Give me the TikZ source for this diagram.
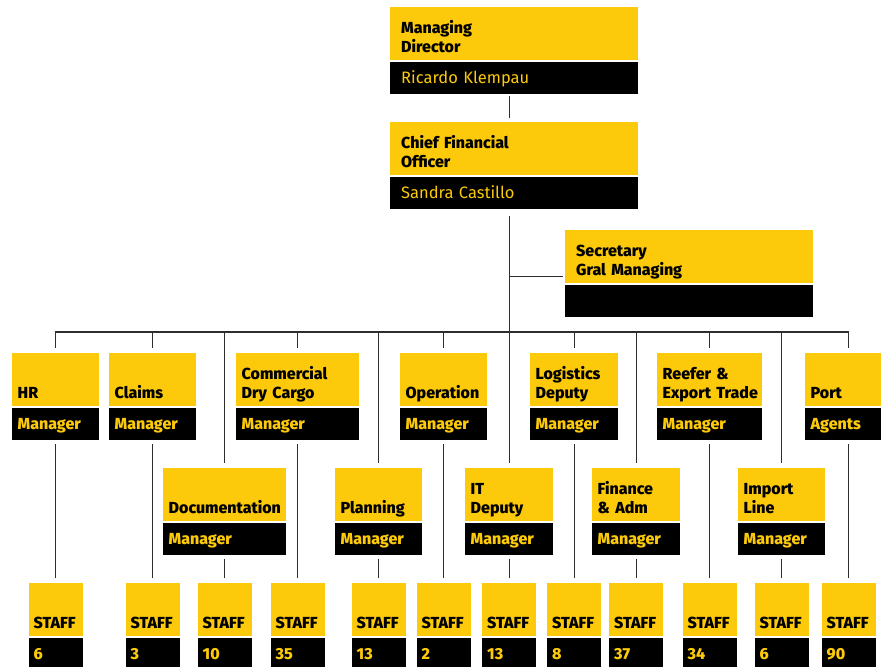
\documentclass[tikz,border=0pt]{standalone}
\usepackage{fontspec}
\setmainfont{Fira Sans}[BoldFont={Fira Sans ExtraBold}]
\usetikzlibrary{positioning}
\definecolor{orgyel}{RGB}{252,202,10}
\definecolor{orgline}{RGB}{45,45,45}
\newcommand\twoline[1]{\begin{tabular}[b]{@{}l@{}}#1\end{tabular}}
\tikzset{
  unit/.style={anchor=north west, inner xsep=5.5bp, inner ysep=0pt, align=left, text width=#1},
  ttl/.style={unit=#1, fill=orgyel, text=black,
    font=\bfseries\fontsize{16bp}{19.5bp}\selectfont, text height=45.5bp, text depth=7.5bp},
  role/.style={unit=#1, fill=black, text=orgyel,
    font=\bfseries\fontsize{16bp}{19.5bp}\selectfont, text height=21.5bp, text depth=10bp},
  who/.style={role=#1, font=\fontsize{16.5bp}{19.5bp}\selectfont},
  big/.style={inner xsep=11bp},
  small/.style={inner xsep=5bp},
  link/.style={draw=orgline, line width=1.4bp, shorten <=4bp, shorten >=5bp},
  drop/.style={link, shorten <=0bp}
}

\begin{document}
\begin{tikzpicture}[x=1bp, y=-1bp]
  \useasboundingbox (0,0) rectangle (881,667);
  % directors
  \node[ttl=226bp, big] (md) at (390,7) {\twoline{Managing\\Director}};
  \node[who=226bp, big, below=1.5bp of md] (md-n) {Ricardo Klempau};
  \node[ttl=226bp, big] (cfo) at (390,122) {\twoline{Chief Financial\\Officer}};
  \node[who=226bp, big, below=1.5bp of cfo] (cfo-n) {Sandra Castillo};
  \node[ttl=226bp, big] (sec) at (565,230) {\twoline{Secretary\\Gral Managing}};
  \node[who=226bp, big, below=1.5bp of sec] (sec-n) {};
  % first row
  \node[ttl=76bp] (hr) at (12,353) {HR};
  \node[role=76bp, below=1.5bp of hr] (hr-m) {Manager};
  \node[ttl=76bp] (claims) at (109,353) {Claims};
  \node[role=76bp, below=1.5bp of claims] (claims-m) {Manager};
  \node[ttl=112bp] (comm) at (236,353) {\twoline{Commercial\\Dry Cargo}};
  \node[role=112bp, below=1.5bp of comm] (comm-m) {Manager};
  \node[ttl=76bp] (oper) at (400,353) {Operation};
  \node[role=76bp, below=1.5bp of oper] (oper-m) {Manager};
  \node[ttl=77bp] (logi) at (530,353) {\twoline{Logistics\\Deputy}};
  \node[role=77bp, below=1.5bp of logi] (logi-m) {Manager};
  \node[ttl=94bp] (reef) at (657,353) {\twoline{Reefer \&\\Export Trade}};
  \node[role=94bp, below=1.5bp of reef] (reef-m) {Manager};
  \node[ttl=76bp] (port) at (805,353) {Port};
  \node[role=76bp, below=1.5bp of port] (port-m) {Agents};
  % second row
  \node[ttl=112bp] (doc) at (163,468) {Documentation};
  \node[role=112bp, below=1.5bp of doc] (doc-m) {Manager};
  \node[ttl=76bp] (plan) at (335,468) {Planning};
  \node[role=76bp, below=1.5bp of plan] (plan-m) {Manager};
  \node[ttl=77bp] (it) at (465,468) {\twoline{IT\\Deputy}};
  \node[role=77bp, below=1.5bp of it] (it-m) {Manager};
  \node[ttl=77bp] (fin) at (592,468) {\twoline{Finance\\\& Adm}};
  \node[role=77bp, below=1.5bp of fin] (fin-m) {Manager};
  \node[ttl=76bp] (imp) at (738,468) {\twoline{Import\\Line}};
  \node[role=76bp, below=1.5bp of imp] (imp-m) {Manager};
  % lines
  \coordinate (bus) at (0,332);
  \coordinate (stafftop) at (0,583);
  \coordinate (tee) at ([xshift=-2bp, yshift=7bp]sec.south west);
  \draw[link, shorten <=2bp, shorten >=4bp] (md-n.south -| it.north) -- (cfo.north -| it.north);
  \draw[link, shorten <=7bp] (cfo-n.south -| it.north) -- (it.north);
  \draw[drop, shorten >=0bp] (it.north |- tee) -- (tee);
  \draw[drop, shorten >=0bp, line cap=rect] (hr.north |- bus) -- (port.north |- bus);
  \foreach \p in {hr,claims,comm,oper,logi,reef,port,doc,plan,fin,imp}
    \draw[drop] (\p.north |- bus) -- (\p.north);
  % staff
  \foreach \p/\n in {hr/6,claims/3,doc/10,comm/35,plan/13,oper/2,it/13,logi/8,fin/37,reef/34,imp/6,port/90}{
    \node[ttl=44bp, small, anchor=north] (s-\p) at (\p.south |- stafftop) {STAFF};
    \node[role=44bp, small, below=1.5bp of s-\p] (s-\p-n) {\n};
    \draw[link] (\p-m.south) -- (s-\p.north);
  }
\end{tikzpicture}
\end{document}
